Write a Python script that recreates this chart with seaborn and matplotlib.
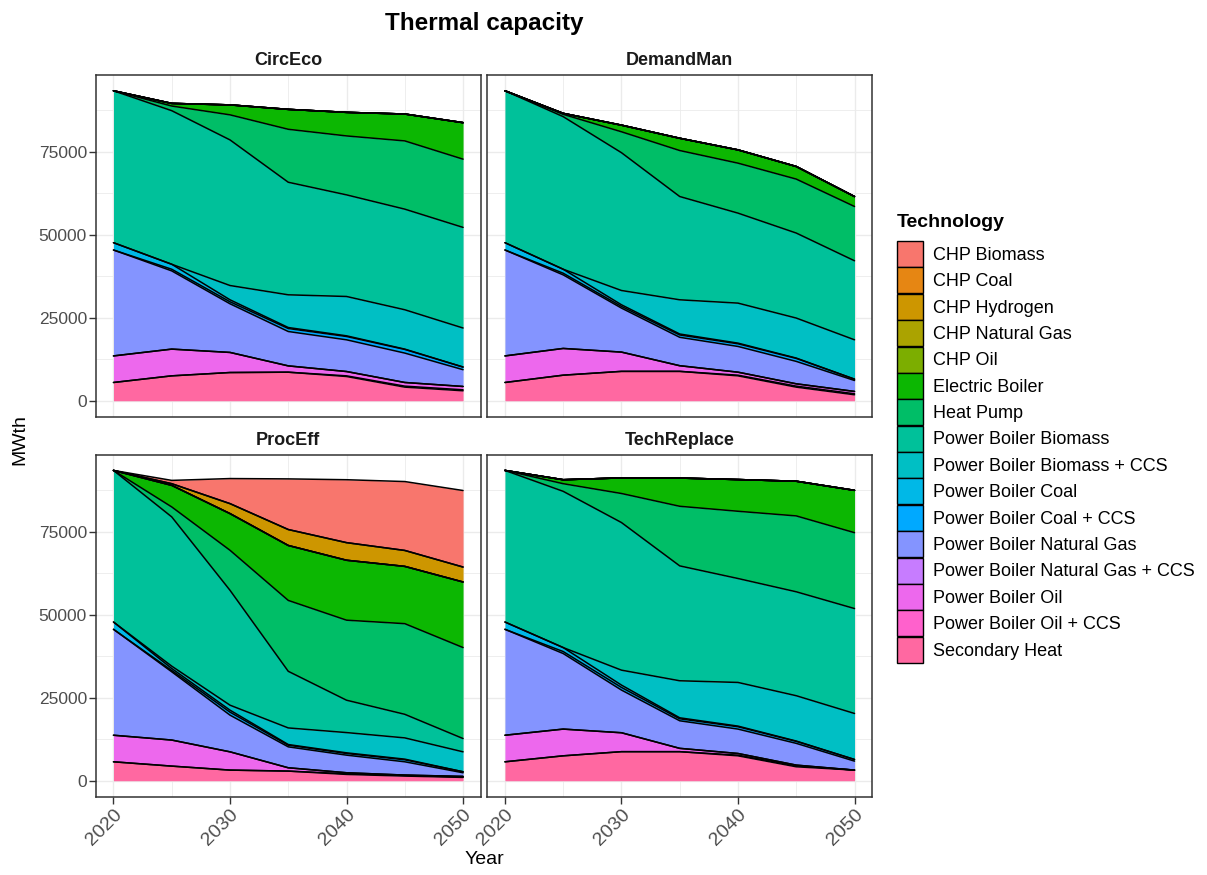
import numpy as np
import pandas as pd
import matplotlib
matplotlib.use("Agg")
import matplotlib.pyplot as plt
import seaborn as sns
from matplotlib.patches import Patch

# ---------------- data ----------------
years = [2020, 2025, 2030, 2035, 2040, 2045, 2050]
scenarios = ["CircEco", "DemandMan", "ProcEff", "TechReplace"]
technologies = [
    "CHP Biomass", "CHP Coal", "CHP Hydrogen", "CHP Natural Gas", "CHP Oil",
    "Electric Boiler", "Heat Pump", "Power Boiler Biomass",
    "Power Boiler Biomass + CCS", "Power Boiler Coal", "Power Boiler Coal + CCS",
    "Power Boiler Natural Gas", "Power Boiler Natural Gas + CCS",
    "Power Boiler Oil", "Power Boiler Oil + CCS", "Secondary Heat",
]
palette = [
    "#F8766D", "#E68613", "#CD9600", "#ABA300", "#7CAE00", "#0CB702",
    "#00BE67", "#00C19A", "#00BFC4", "#00B8E7", "#00A9FF", "#8494FF",
    "#C77CFF", "#ED68ED", "#FF61CC", "#FF68A1",
]
zeros = [0, 0, 0, 0, 0, 0, 0]

# CircEco
ce_secondary_heat = [5500, 7500, 8500, 8600, 7300, 4100, 3000]
ce_pb_oil_ccs = [0, 0, 0, 0, 200, 300, 300]
ce_pb_oil = [8000, 8050, 6050, 1900, 1300, 1100, 1000]
ce_pb_gas = [31900, 23550, 14650, 10350, 9550, 8850, 5050]
ce_pb_coal_ccs = [0, 500, 600, 900, 1000, 1100, 800]
ce_pb_coal = [2200, 1500, 600, 300, 200, 100, 0]
ce_pb_biomass_ccs = [0, 0, 4300, 9850, 11850, 11850, 11750]
ce_pb_biomass = [45750, 46250, 43850, 33900, 30600, 30300, 30300]
ce_heat_pump = [0, 1400, 7550, 15950, 17750, 20550, 20550]
ce_electric_boiler = [0, 800, 3000, 6000, 7100, 8100, 11000]

# DemandMan
dm_secondary_heat = [5500, 7700, 8850, 8850, 7500, 4100, 1800]
dm_pb_oil_ccs = [0, 0, 0, 0, 200, 300, 300]
dm_pb_oil = [8000, 8050, 5800, 1700, 900, 700, 700]
dm_pb_gas = [31900, 22150, 13250, 8550, 7750, 6750, 3300]
dm_pb_coal_ccs = [0, 500, 500, 700, 800, 900, 400]
dm_pb_coal = [2200, 1200, 500, 300, 200, 100, 0]
dm_pb_biomass_ccs = [0, 0, 4300, 10300, 12050, 12050, 11850]
dm_pb_biomass = [45750, 45950, 41500, 31100, 27100, 25600, 23800]
dm_heat_pump = [0, 700, 6300, 13850, 15050, 16250, 16350]
dm_electric_boiler = [0, 300, 2000, 3700, 4000, 3800, 3000]

# ProcEff
pe_secondary_heat = [5700, 4400, 3200, 2900, 1900, 1400, 1000]
pe_pb_oil_ccs = [0, 0, 0, 0, 200, 200, 100]
pe_pb_oil = [8000, 7850, 5500, 1000, 300, 100, 200]
pe_pb_gas = [31900, 20550, 11050, 6300, 5300, 4000, 1100]
pe_pb_coal_ccs = [0, 400, 900, 500, 500, 600, 300]
pe_pb_coal = [2200, 600, 600, 200, 200, 200, 0]
pe_pb_biomass_ccs = [0, 700, 1500, 5000, 6100, 6400, 6000]
pe_pb_biomass = [45650, 44950, 34600, 17050, 9750, 7100, 4000]
pe_heat_pump = [0, 3000, 12050, 21350, 24100, 27300, 27400]
pe_electric_boiler = [0, 6500, 11050, 16550, 18050, 17250, 19750]
pe_chp_hydrogen = [0, 500, 3000, 4800, 5300, 4800, 4500]
pe_chp_biomass = [0, 1000, 7550, 15250, 18950, 20750, 23050]

# TechReplace
tr_secondary_heat = [5700, 7500, 8750, 8750, 7500, 4200, 3200]
tr_pb_oil_ccs = [0, 0, 0, 0, 200, 300, 0]
tr_pb_oil = [8000, 8050, 5700, 1000, 500, 200, 0]
tr_pb_gas = [31900, 22750, 12850, 8300, 7350, 6550, 2700]
tr_pb_coal_ccs = [0, 600, 800, 600, 700, 600, 500]
tr_pb_coal = [2200, 1200, 700, 300, 200, 100, 0]
tr_pb_biomass_ccs = [0, 0, 4500, 11150, 13150, 13650, 13850]
tr_pb_biomass = [45650, 47050, 44450, 34600, 31300, 31300, 31600]
tr_heat_pump = [0, 2300, 8750, 17950, 20250, 22850, 22850]
tr_electric_boiler = [0, 1200, 4700, 8500, 9550, 10450, 12750]

scenario_values = {
    "CircEco": {
        "Secondary Heat": ce_secondary_heat, "Power Boiler Oil + CCS": ce_pb_oil_ccs,
        "Power Boiler Oil": ce_pb_oil, "Power Boiler Natural Gas": ce_pb_gas,
        "Power Boiler Coal + CCS": ce_pb_coal_ccs, "Power Boiler Coal": ce_pb_coal,
        "Power Boiler Biomass + CCS": ce_pb_biomass_ccs, "Power Boiler Biomass": ce_pb_biomass,
        "Heat Pump": ce_heat_pump, "Electric Boiler": ce_electric_boiler,
    },
    "DemandMan": {
        "Secondary Heat": dm_secondary_heat, "Power Boiler Oil + CCS": dm_pb_oil_ccs,
        "Power Boiler Oil": dm_pb_oil, "Power Boiler Natural Gas": dm_pb_gas,
        "Power Boiler Coal + CCS": dm_pb_coal_ccs, "Power Boiler Coal": dm_pb_coal,
        "Power Boiler Biomass + CCS": dm_pb_biomass_ccs, "Power Boiler Biomass": dm_pb_biomass,
        "Heat Pump": dm_heat_pump, "Electric Boiler": dm_electric_boiler,
    },
    "ProcEff": {
        "Secondary Heat": pe_secondary_heat, "Power Boiler Oil + CCS": pe_pb_oil_ccs,
        "Power Boiler Oil": pe_pb_oil, "Power Boiler Natural Gas": pe_pb_gas,
        "Power Boiler Coal + CCS": pe_pb_coal_ccs, "Power Boiler Coal": pe_pb_coal,
        "Power Boiler Biomass + CCS": pe_pb_biomass_ccs, "Power Boiler Biomass": pe_pb_biomass,
        "Heat Pump": pe_heat_pump, "Electric Boiler": pe_electric_boiler,
        "CHP Hydrogen": pe_chp_hydrogen, "CHP Biomass": pe_chp_biomass,
    },
    "TechReplace": {
        "Secondary Heat": tr_secondary_heat, "Power Boiler Oil + CCS": tr_pb_oil_ccs,
        "Power Boiler Oil": tr_pb_oil, "Power Boiler Natural Gas": tr_pb_gas,
        "Power Boiler Coal + CCS": tr_pb_coal_ccs, "Power Boiler Coal": tr_pb_coal,
        "Power Boiler Biomass + CCS": tr_pb_biomass_ccs, "Power Boiler Biomass": tr_pb_biomass,
        "Heat Pump": tr_heat_pump, "Electric Boiler": tr_electric_boiler,
    },
}

rows = []
for sc in scenarios:
    for tech in technologies:
        vals = scenario_values[sc].get(tech, zeros)
        for yr, v in zip(years, vals):
            rows.append({"Scenario": sc, "Technology": tech, "Year": yr, "MWth": v})
df = pd.DataFrame(rows)
colors = dict(zip(technologies, palette))

# ---------------- style ----------------
sns.set_theme(style="white")
plt.rcParams["font.family"] = ["Liberation Sans", "DejaVu Sans"]
plt.rcParams["axes.edgecolor"] = "#333333"
plt.rcParams["axes.linewidth"] = 1.1
plt.rcParams["text.color"] = "black"
plt.rcParams["axes.labelcolor"] = "black"


def stacked_area(data, **kws):
    ax = plt.gca()
    wide = (data.pivot(index="Year", columns="Technology", values="MWth")
            .reindex(columns=technologies).fillna(0))
    x = wide.index.values
    base = np.zeros(len(x))
    for tech in reversed(technologies):
        top = base + wide[tech].values
        ax.fill_between(x, base, top, facecolor=colors[tech], linewidth=0, zorder=2)
        ax.plot(x, top, color="black", lw=1.1, zorder=3, solid_joinstyle="round")
        base = top


g = sns.FacetGrid(df, col="Scenario", col_order=scenarios, col_wrap=2,
                  height=3.5, aspect=1.1, sharex=True, sharey=True, despine=False)
g.map_dataframe(stacked_area)
fig = g.figure
fig.set_size_inches(12.07, 8.75)
fig.set_dpi(100)
fig.subplots_adjust(left=96 / 1207, right=872 / 1207, top=1 - 75 / 875,
                    bottom=1 - 797 / 875, wspace=0.018, hspace=0.111)

g.set_titles("{col_name}", fontweight="bold", size=13, pad=7, color="#1A1A1A")
g.set_axis_labels("", "")

for i, ax in enumerate(g.axes.flat):
    ax.set_xlim(2018.5, 2051.5)
    ax.set_ylim(-4900, 98100)
    ax.set_xticks([2020, 2030, 2040, 2050])
    ax.set_xticks([2025, 2035, 2045], minor=True)
    ax.set_yticks([0, 25000, 50000, 75000])
    ax.set_yticks([12500, 37500, 62500, 87500], minor=True)
    ax.grid(True, which="major", color="#EBEBEB", lw=1.0, zorder=0)
    ax.grid(True, which="minor", color="#EBEBEB", lw=0.6, zorder=0)
    ax.set_axisbelow(True)
    ax.tick_params(which="major", length=5, width=1.0, color="#333333",
                   labelsize=12.5, labelcolor="#4D4D4D", pad=1.5,
                   bottom=(i >= 2), left=(i % 2 == 0))
    ax.tick_params(which="minor", length=0)
    for sp in ax.spines.values():
        sp.set_visible(True)
        sp.set_color("#333333")
        sp.set_linewidth(1.1)
    if i >= 2:
        ax.set_xticklabels(["2020", "2030", "2040", "2050"], rotation=45,
                           ha="right", va="top", rotation_mode="anchor")
        ax.tick_params(axis="x", labelsize=14)
    if i % 2 == 0:
        ax.set_yticklabels(["0", "25000", "50000", "75000"])

fig.suptitle("Thermal capacity", x=484 / 1207, y=1 - 12 / 875, fontsize=17.5,
             fontweight="bold", va="top", color="black")
fig.text(484 / 1207, 1 - 860 / 875, "Year", ha="center", va="center",
         fontsize=14, color="black")
fig.text(20 / 1207, 1 - 440 / 875, "MWth", ha="center", va="center",
         rotation=90, fontsize=14, color="black")

fig.text(897 / 1207, 1 - 227 / 875, "Technology", ha="left", va="baseline",
         fontsize=14, fontweight="bold", color="black")
handles = [Patch(facecolor=colors[t], edgecolor="black", linewidth=1.0)
           for t in technologies]
leg = fig.legend(handles, technologies, loc="upper left",
                 bbox_to_anchor=(897 / 1207, 1 - 241 / 875), frameon=False,
                 fontsize=13, handlelength=1.42, handleheight=1.84,
                 labelspacing=0.02, handletextpad=0.55, borderpad=0,
                 borderaxespad=0, labelcolor="black")

fig.savefig("out.png", dpi=100)
